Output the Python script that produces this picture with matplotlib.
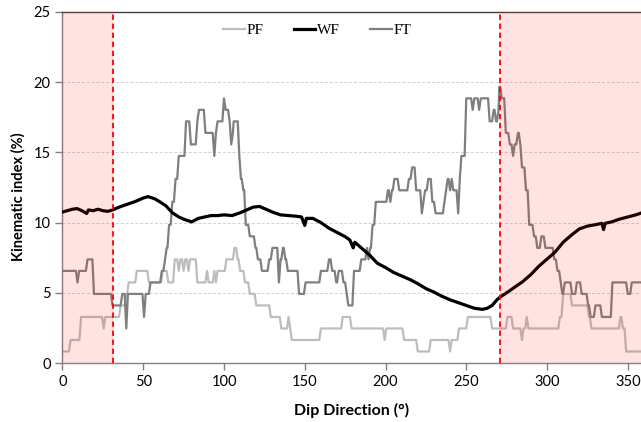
import matplotlib
matplotlib.use("Agg")
import matplotlib.pyplot as plt
from matplotlib.lines import Line2D

# ---- data ----
pf_x = [0, 5, 11.5, 25.5, 26.5, 36, 39.5, 41, 46, 53.5, 62, 65.5, 69.5, 72, 73, 75, 76, 78, 79,
        83.5, 89.5, 90.5, 94, 95, 96, 101.5, 106.5, 108.5, 110, 113, 116, 120, 129, 135.5, 140,
        141, 142, 160, 173.5, 179, 199.5, 200.5, 211.5, 220, 228, 240, 241, 245.5, 251, 266,
        275.5, 279, 284.5, 285.5, 287.5, 288.5, 308, 310, 315.5, 326, 327.5, 345.5, 347, 349, 360]
pf_y = [0.82, 1.64, 3.28, 2.46, 3.28, 4.10, 4.92, 5.74, 6.56, 5.74, 6.56, 5.74, 7.38, 6.56, 7.38,
        6.56, 7.38, 6.56, 7.38, 5.74, 6.56, 5.74, 6.56, 5.74, 6.56, 7.38, 8.20, 7.38, 6.56, 5.74,
        4.92, 4.10, 3.28, 2.46, 3.28, 2.46, 1.64, 2.46, 3.28, 2.46, 1.64, 2.46, 1.64, 0.82, 1.64,
        0.82, 1.64, 2.46, 3.28, 2.46, 3.28, 2.46, 1.64, 2.46, 3.28, 2.46, 3.28, 4.92, 4.10, 3.28,
        2.46, 3.28, 2.46, 0.82, 0.82]

wf_x = [0, 3, 6, 9, 12, 15, 16, 19, 22, 25, 28, 31, 35, 40, 45, 50, 53, 57, 60, 64, 68, 72, 76,
        80, 84, 88, 92, 96, 100, 105, 110, 114, 118, 122, 126, 130, 135, 140, 145, 148, 150, 151,
        155, 160, 165, 170, 175, 178, 180, 181, 185, 190, 195, 200, 205, 210, 215, 220, 225, 230,
        235, 240, 245, 250, 255, 260, 263, 266, 269, 271, 275, 280, 285, 290, 295, 300, 305, 310,
        315, 320, 325, 330, 334, 335, 336, 340, 345, 350, 355, 360]
wf_y = [10.75, 10.85, 10.95, 11.0, 10.85, 10.65, 10.9, 10.85, 10.95, 10.85, 10.8, 10.9, 11.1,
        11.3, 11.5, 11.75, 11.85, 11.7, 11.5, 11.2, 10.7, 10.4, 10.2, 10.05, 10.3, 10.4, 10.5,
        10.5, 10.55, 10.5, 10.7, 10.9, 11.1, 11.15, 10.95, 10.75, 10.55, 10.5, 10.45, 10.4, 9.8,
        10.3, 10.3, 10.0, 9.6, 9.3, 9.0, 8.75, 8.2, 8.6, 8.2, 7.7, 7.1, 6.8, 6.45, 6.2, 5.95, 5.65,
        5.3, 5.05, 4.75, 4.5, 4.3, 4.1, 3.9, 3.82, 3.9, 4.1, 4.5, 4.7, 5.0, 5.4, 5.8, 6.3, 6.9,
        7.4, 7.9, 8.6, 9.1, 9.55, 9.75, 9.85, 9.95, 9.5, 9.95, 10.05, 10.25, 10.4, 10.55, 10.75]

ft_x = [0, 9.3, 10.3, 15.5, 19.5, 31, 37, 39.5, 40.5, 50.5, 51.5, 54.5, 61.5, 63.5, 64.5, 66, 68,
        70, 72, 76.5, 79.5, 83.5, 84.5, 88.5, 94, 95, 96, 100, 101, 103.5, 104.5, 105.5, 106, 109.5,
        110.5, 112, 113.5, 116, 119.5, 121, 123.5, 128, 130, 134, 135, 136.5, 138, 139.5, 146.5,
        150.5, 160, 165, 167, 169.5, 171, 174, 176, 177, 180.5, 185, 188.5, 189.5, 190.5, 192, 194,
        201.5, 203, 204, 205.5, 208.5, 214.5, 216.5, 219, 222.5, 223.5, 224.5, 226.5, 229, 231,
        236.5, 237.5, 238.5, 240, 241, 242, 245, 246, 247, 250, 254, 255, 258, 259, 264.5, 267,
        268.5, 270, 270.5, 272, 274.5, 277, 279, 280, 282, 283.5, 284.5, 287, 289, 292, 294, 296.5,
        299, 304.5, 306.5, 308.5, 309.5, 311, 315.5, 318.5, 321.5, 325.5, 327, 330, 334, 340.5, 350,
        352.5, 360]
ft_y = [6.56, 5.74, 6.56, 7.38, 4.92, 4.10, 4.92, 2.46, 4.92, 3.28, 4.92, 5.74, 6.56, 7.38, 8.20,
        9.84, 11.48, 13.11, 14.75, 17.21, 15.57, 17.21, 18.03, 16.39, 14.75, 16.39, 17.21, 18.85,
        18.03, 17.21, 15.57, 16.39, 17.21, 14.75, 13.11, 12.30, 9.84, 9.02, 8.20, 7.38, 6.56, 7.38,
        8.20, 5.74, 7.38, 8.20, 7.38, 6.56, 4.92, 5.74, 6.56, 7.38, 6.56, 5.74, 6.56, 5.74, 4.92,
        4.10, 6.56, 7.38, 8.20, 7.38, 8.20, 9.84, 11.48, 12.30, 11.48, 12.30, 13.11, 12.30, 13.11,
        13.93, 12.30, 10.66, 11.48, 12.30, 13.11, 11.48, 10.66, 11.48, 12.30, 13.11, 12.30, 13.11,
        12.30, 10.66, 13.11, 14.75, 18.85, 18.03, 18.85, 18.03, 18.85, 17.21, 18.03, 17.21, 18.03,
        19.67, 18.85, 16.39, 15.57, 14.75, 15.57, 16.39, 15.57, 13.93, 12.30, 9.84, 9.02, 8.20,
        9.02, 8.20, 7.38, 6.56, 5.74, 4.92, 5.74, 4.92, 5.74, 4.92, 4.10, 3.28, 4.10, 3.28, 5.74,
        4.92, 5.74, 5.74]

zones = [(0, 31), (271, 360)]
series_names = ["PF", "WF", "FT"]
x_ticks = [0, 50, 100, 150, 200, 250, 300, 350]
y_ticks = [0, 5, 10, 15, 20, 25]


def level_path(xs, ys, ramp=1.0):
    """Hold each read level until the next breakpoint, with a 1-degree ramp between levels."""
    px, py = [], []
    for i in range(len(xs) - 1):
        px.append(xs[i]); py.append(ys[i])
        end = xs[i + 1] - ramp
        if end > xs[i]:
            px.append(end); py.append(ys[i])
    px.append(xs[-1]); py.append(ys[-1])
    return px, py


# ---- figure ----
plt.rcParams["font.family"] = ["Lato", "DejaVu Sans"]
fig = plt.figure(figsize=(6.41, 4.22), dpi=100)
ax = fig.add_axes([0.0975, 0.1398, 0.9025, 0.8318])

ax.set_xlim(0, 358.2)
ax.set_ylim(0, 25)

for yv in y_ticks[1:-1]:
    ax.axhline(yv, color="#d0d0d0", lw=0.7, ls=(0, (3, 2)), zorder=1)

pf_c, wf_c, ft_c = "#bdbdbd", "#000000", "#7f7f7f"
ax.plot(*level_path(pf_x, pf_y), color=pf_c, lw=1.6, zorder=2)
ax.plot(*level_path(ft_x, ft_y), color=ft_c, lw=1.6, zorder=3)
ax.plot(wf_x, wf_y, color=wf_c, lw=2.3, zorder=4)

for a, b in zones:
    ax.axvspan(a, b, color="#ff2020", alpha=0.12, lw=0, zorder=5)
for a, b in zones:
    edge = b if a == 0 else a
    ax.axvline(edge, color="#ff0000", lw=1.3, ls=(0, (3, 2)), zorder=6)

ax.set_xticks(x_ticks)
ax.set_yticks(y_ticks)
ax.tick_params(axis="both", direction="out", length=5, width=1, color="#808080",
               labelsize=10.5, labelcolor="#000000")
for s in ["left", "bottom"]:
    ax.spines[s].set_color("#808080")
    ax.spines[s].set_linewidth(1.0)
ax.spines["top"].set_color("#404040")
ax.spines["top"].set_linewidth(1.0)
ax.spines["right"].set_visible(False)

ax.set_xlabel("Dip Direction (°)", fontsize=11.5, fontweight="bold")
ax.xaxis.set_label_coords(0.5, -0.115)
ax.set_ylabel("Kinematic index (%)", fontsize=10.5, fontweight="bold")
ax.yaxis.set_label_coords(-0.064, 0.473)

handles = [Line2D([], [], color=pf_c, lw=1.6),
           Line2D([], [], color=wf_c, lw=2.3),
           Line2D([], [], color=ft_c, lw=1.6)]
leg = ax.legend(handles, series_names, loc="center", bbox_to_anchor=(0.44, 0.948), ncol=3,
                frameon=False, handlelength=1.4, handletextpad=0.1, columnspacing=2.0,
                prop={"family": "Liberation Serif", "size": 11})
leg.set_zorder(7)

fig.savefig("out.png", dpi=100)
